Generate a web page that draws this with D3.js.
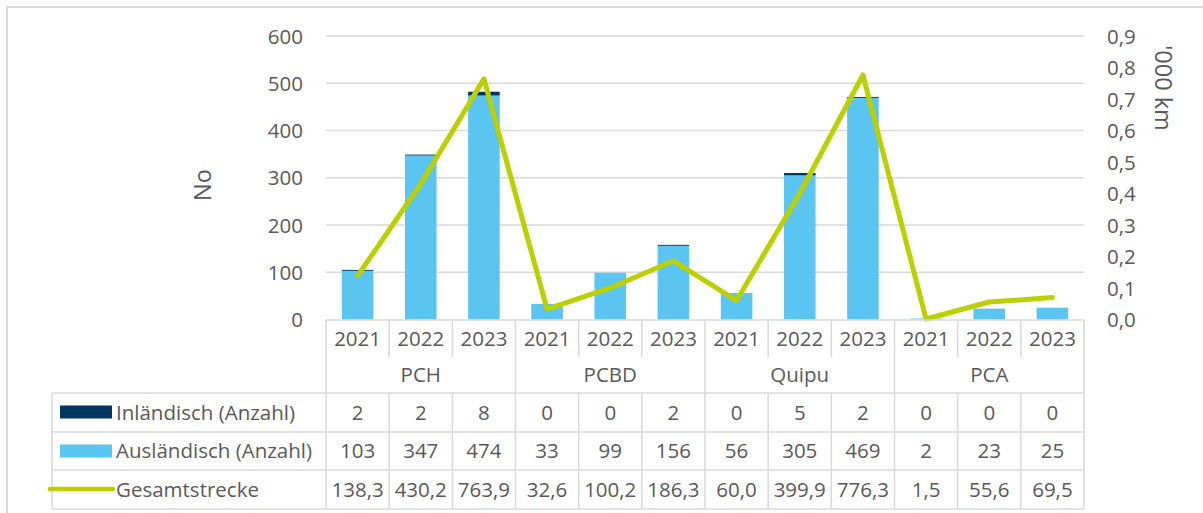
<!DOCTYPE html>
<html>
<head>
<meta charset="utf-8">
<script src="https://cdn.jsdelivr.net/npm/d3@7"></script>
<style>
  body { margin: 0; background: #fff; }
  svg text { font-family: "Open Sans", sans-serif; fill: #595959; }
</style>
</head>
<body>
<div id="chart"></div>
<script>
// --- DATA ---
const groups = ["PCH", "PCBD", "Quipu", "PCA"];
const years = ["2021", "2022", "2023"];
const inland = [2, 2, 8, 0, 0, 2, 0, 5, 2, 0, 0, 0];
const ausland = [103, 347, 474, 33, 99, 156, 56, 305, 469, 2, 23, 25];
const gesamt = [138.3, 430.2, 763.9, 32.6, 100.2, 186.3, 60.0, 399.9, 776.3, 1.5, 55.6, 69.5];
const leftTicks = [0, 100, 200, 300, 400, 500, 600];
const rightTicks = [0, 0.1, 0.2, 0.3, 0.4, 0.5, 0.6, 0.7, 0.8, 0.9];
const seriesNames = ["Inländisch (Anzahl)", "Ausländisch (Anzahl)", "Gesamtstrecke"];

const colors = { inland: "#00365f", ausland: "#5bc5f2", line: "#bcd000", grid: "#d9d9d9", text: "#595959" };
const fs = "20.5px";

const width = 1203, height = 513;
const plot = { left: 326, right: 1084, top: 36, bottom: 319.5 };

const svg = d3.select("#chart").append("svg")
    .attr("width", width)
    .attr("height", height);

// outer chart border (right/bottom fall outside the picture)
svg.append("rect")
    .attr("x", 7).attr("y", 7)
    .attr("width", width + 20).attr("height", height + 20)
    .attr("fill", "none")
    .attr("stroke", colors.grid)
    .attr("stroke-width", 2);

// --- SCALES ---
const keys = d3.range(ausland.length);
const x = d3.scaleBand()
    .domain(keys)
    .range([plot.left, plot.right])
    .paddingInner(0.5)
    .paddingOuter(0.25);
const step = x.step();

const y = d3.scaleLinear().domain([0, 600]).range([plot.bottom, plot.top]);
const y2 = d3.scaleLinear().domain([0, 0.9]).range([plot.bottom, plot.top]);

// --- GRID ---
svg.append("g")
    .selectAll("line")
    .data(leftTicks.slice(1))
    .join("line")
    .attr("x1", plot.left).attr("x2", plot.right)
    .attr("y1", d => y(d)).attr("y2", d => y(d))
    .attr("stroke", colors.grid)
    .attr("stroke-width", 1.5);

// --- AXES ---
const yAxis = svg.append("g")
    .attr("transform", `translate(${plot.left - 23},0)`)
    .call(d3.axisLeft(y).tickValues(leftTicks).tickSize(0).tickPadding(0));
yAxis.select(".domain").remove();
yAxis.selectAll("text")
    .attr("font-size", fs)
    .attr("dy", "0.35em");

const y2Axis = svg.append("g")
    .attr("transform", `translate(1107,0)`)
    .call(d3.axisRight(y2).tickValues(rightTicks).tickSize(0).tickPadding(0)
        .tickFormat(d => d3.format(".1f")(d).replace(".", ",")));
y2Axis.select(".domain").remove();
y2Axis.selectAll("text")
    .attr("font-size", fs)
    .attr("dy", "0.35em");

svg.append("text")
    .attr("transform", "translate(211,185) rotate(-90)")
    .attr("text-anchor", "middle")
    .attr("font-size", "23.5px")
    .text("No");

svg.append("text")
    .attr("transform", "translate(1155,88) rotate(90)")
    .attr("text-anchor", "middle")
    .attr("font-size", "23.5px")
    .text("'000 km");

// --- BARS ---
svg.append("g")
    .selectAll("rect")
    .data(keys)
    .join("rect")
    .attr("x", i => x(i))
    .attr("width", x.bandwidth())
    .attr("y", i => y(ausland[i]))
    .attr("height", i => y(0) - y(ausland[i]))
    .attr("fill", colors.ausland);

svg.append("g")
    .selectAll("rect")
    .data(keys.filter(i => inland[i] > 0))
    .join("rect")
    .attr("x", i => x(i))
    .attr("width", x.bandwidth())
    .attr("y", i => y(ausland[i] + inland[i]))
    .attr("height", i => y(ausland[i]) - y(ausland[i] + inland[i]))
    .attr("fill", colors.inland);

// --- LINE ---
const line = d3.line()
    .x(i => x(i) + x.bandwidth() / 2)
    .y(i => y2(gesamt[i] / 1000));

svg.append("path")
    .datum(keys)
    .attr("d", line)
    .attr("fill", "none")
    .attr("stroke", colors.line)
    .attr("stroke-width", 5)
    .attr("stroke-linejoin", "round")
    .attr("stroke-linecap", "round");

// --- DATA TABLE ---
const tbl = svg.append("g").attr("stroke", colors.grid).attr("stroke-width", 1.5);
const rowY = { top: 320, yearBottom: 357, groupBottom: 393, r1: 432, r2: 470, r3: 509 };
const tableLeft = 52;

// horizontal rules
tbl.append("line").attr("x1", plot.left).attr("x2", plot.right).attr("y1", rowY.top).attr("y2", rowY.top);
[rowY.groupBottom, rowY.r1, rowY.r2, rowY.r3].forEach(yy => {
    tbl.append("line").attr("x1", tableLeft).attr("x2", plot.right).attr("y1", yy).attr("y2", yy);
});

// vertical rules
tbl.append("line").attr("x1", tableLeft).attr("x2", tableLeft).attr("y1", rowY.groupBottom).attr("y2", rowY.r3);
d3.range(ausland.length + 1).forEach(k => {
    const xx = plot.left + k * step;
    if (k % 3 === 0) {
        tbl.append("line").attr("x1", xx).attr("x2", xx).attr("y1", rowY.top).attr("y2", rowY.r3);
    } else {
        tbl.append("line").attr("x1", xx).attr("x2", xx).attr("y1", rowY.top).attr("y2", rowY.yearBottom);
        tbl.append("line").attr("x1", xx).attr("x2", xx).attr("y1", rowY.groupBottom).attr("y2", rowY.r3);
    }
});

const cellText = (xx, yy, str) => svg.append("text")
    .attr("x", xx).attr("y", yy)
    .attr("dy", "0.35em")
    .attr("text-anchor", "middle")
    .attr("font-size", fs)
    .text(str);

keys.forEach(i => {
    const cx = x(i) + x.bandwidth() / 2;
    cellText(cx, 338.5, years[i % 3]);
    cellText(cx, 412.5, inland[i]);
    cellText(cx, 451, ausland[i]);
    cellText(cx, 489.5, d3.format(".1f")(gesamt[i]).replace(".", ","));
});
groups.forEach((g, j) => {
    cellText(plot.left + (j * 3 + 1.5) * step, 375, g);
});

// legend column
svg.append("rect").attr("x", 60).attr("y", 405.5).attr("width", 52).attr("height", 13).attr("fill", colors.inland);
svg.append("rect").attr("x", 60).attr("y", 444.5).attr("width", 52).attr("height", 13).attr("fill", colors.ausland);
svg.append("line").attr("x1", 50).attr("x2", 113).attr("y1", 489).attr("y2", 489)
    .attr("stroke", colors.line).attr("stroke-width", 4.5).attr("stroke-linecap", "round");

[412.5, 451, 489.5].forEach((yy, k) => {
    svg.append("text")
        .attr("x", 116).attr("y", yy)
        .attr("dy", "0.35em")
        .attr("font-size", fs)
        .text(seriesNames[k]);
});
</script>
</body>
</html>
